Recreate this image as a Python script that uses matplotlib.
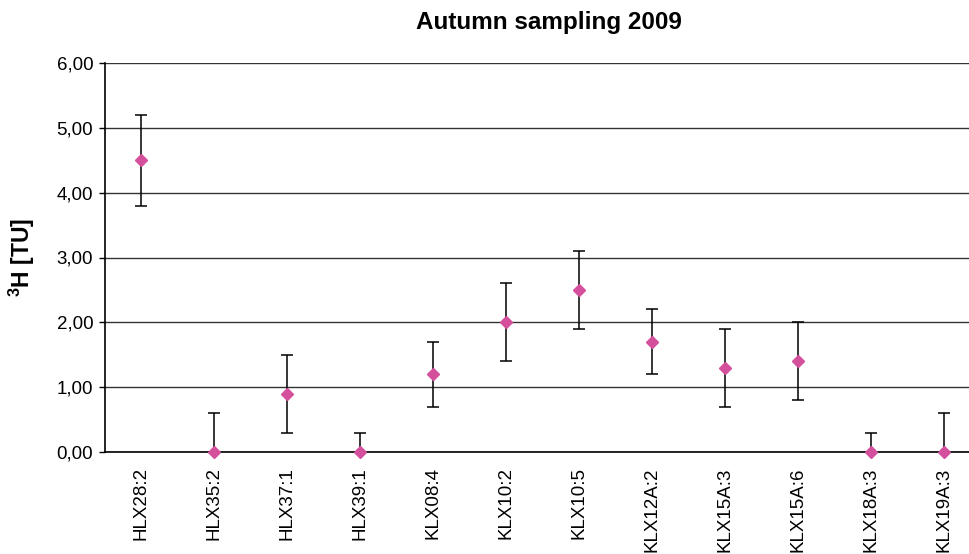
import matplotlib.pyplot as plt
import numpy as np

plt.rcParams['font.family'] = ['Liberation Sans', 'DejaVu Sans']

# Proben und Tritiumwerte
proben = ['HLX28:2', 'HLX35:2', 'HLX37:1', 'HLX39:1', 'KLX08:4', 'KLX10:2',
          'KLX10:5', 'KLX12A:2', 'KLX15A:3', 'KLX15A:6', 'KLX18A:3', 'KLX19A:3']
tritium = [4.5, 0.0, 0.9, 0.0, 1.2, 2.0, 2.5, 1.7, 1.3, 1.4, 0.0, 0.0]
fehler_unten = [0.7, 0.0, 0.6, 0.0, 0.5, 0.6, 0.6, 0.5, 0.6, 0.6, 0.0, 0.0]
fehler_oben = [0.7, 0.6, 0.6, 0.3, 0.5, 0.6, 0.6, 0.5, 0.6, 0.6, 0.3, 0.6]

fig = plt.figure(figsize=(9.7, 5.54), dpi=100)
ax = fig.add_axes([105 / 970, 1 - 452 / 554, 1 - 105 / 970, (452 - 63) / 554])

x = np.arange(len(proben))
ax.errorbar(x, tritium, yerr=[fehler_unten, fehler_oben], fmt='D', color='#d44f9c',
            markersize=6.5, ecolor='black', elinewidth=1.1, capsize=4.5,
            capthick=1.1, zorder=3, clip_on=False)

ax.set_ylim(0, 6)
ax.set_xlim(-0.5, 11.36)
ax.set_yticks(np.arange(0, 6.01, 1))
ax.set_yticklabels([f'{v:.2f}'.replace('.', ',') for v in np.arange(0, 6.01, 1)], fontsize=13.5)
ax.set_xticks(x)
ax.set_xticklabels(proben, rotation=90, fontsize=13.5)
ax.tick_params(axis='x', length=0, pad=11)
ax.tick_params(axis='y', length=4.5, width=1, direction='out', pad=4)

ax.grid(axis='y', color='#333333', linewidth=1)
ax.set_axisbelow(True)
for s in ['top', 'right']:
    ax.spines[s].set_visible(False)
ax.spines['left'].set_linewidth(1.2)
ax.spines['bottom'].set_linewidth(1.2)

ax.set_ylabel('$\\mathregular{^3}$H [TU]', fontsize=16.5, fontweight='bold', labelpad=14)
fig.text(549 / 970, 1 - 22 / 554, 'Autumn sampling 2009', ha='center', va='center',
         fontsize=17.5, fontweight='bold')

plt.savefig('out.png', dpi=100)
